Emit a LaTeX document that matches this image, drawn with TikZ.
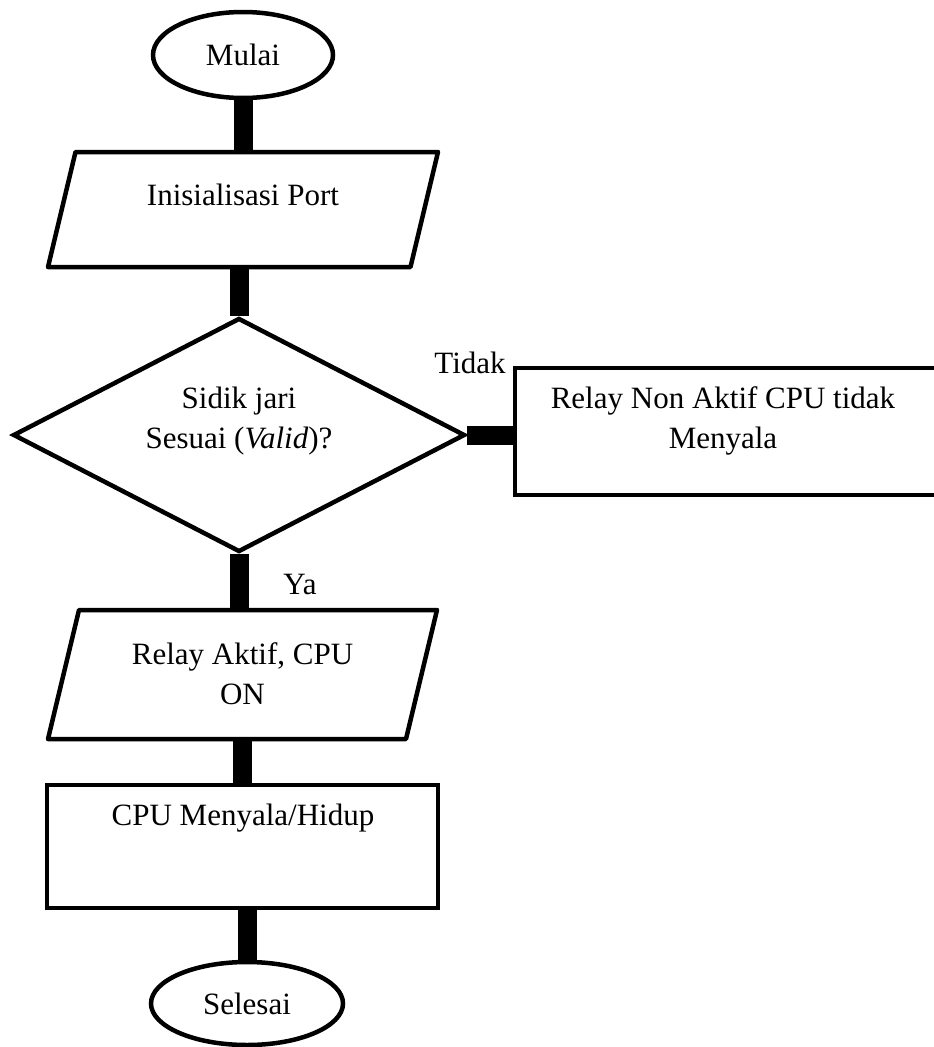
\documentclass[tikz,border=0pt]{standalone}
\usepackage{fontspec}
\setmainfont{Liberation Serif}
\usetikzlibrary{shapes.geometric}
\begin{document}
\begin{tikzpicture}[x=1pt,y=-1pt,
  every node/.style={font=\fontsize{31}{40}\selectfont},
  outline/.style={draw=black, line width=4.5pt, fill=white, inner sep=0pt},
  term/.style={outline, ellipse},
  iobox/.style={rectangle, draw=none, inner sep=0pt, outer sep=0pt, align=center},
  ioline/.style={draw=black, line width=4.5pt, fill=white, line join=round},
  proc/.style={outline, rectangle},
  dec/.style={outline, diamond},
  bar/.style={line width=19pt, draw=black},
  txt/.style={inner sep=0pt, align=center}
]
\useasboundingbox (0,0) rectangle (934,1047);
\clip (0,0) rectangle (934,1047);

\node[term, minimum width=180pt, minimum height=86pt] (mulai) at (243,55) {Mulai};

% input/output parallelograms: invisible anchor box + drawn outline
\node[iobox, minimum width=390pt, minimum height=115pt] (init) at (243,209.5) {};
\draw[ioline] ([xshift=27.5pt]init.north west) -- (init.north east)
  -- ([xshift=-27.5pt]init.south east) -- (init.south west) -- cycle;
\node[txt] (initt) at (243,195) {Inisialisasi Port};

\node[dec, minimum width=452pt, minimum height=234pt] (dec) at (239,435) {};
\node[txt] (dect) at (239,421) {Sidik jari\\Sesuai (\textit{Valid})?};
\node[proc, minimum width=430pt, minimum height=127pt] (off) at (730,431.5) {};
\node[txt] (offt) at (723,421) {Relay Non Aktif CPU tidak\\Menyala};

\node[iobox, minimum width=389pt, minimum height=129pt] (on) at (242.5,674.5) {};
\draw[ioline] ([xshift=31pt]on.north west) -- (on.north east)
  -- ([xshift=-31pt]on.south east) -- (on.south west) -- cycle;
\node[txt] (ont) at (242.5,674) {Relay Aktif, CPU\\ON};

\node[proc, minimum width=391pt, minimum height=123pt] (cpu) at (242.5,846.5) {};
\node[txt] (cput) at (243,818) {CPU Menyala/Hidup};
\node[term, minimum width=192pt, minimum height=83pt] (selesai) at (247,1003.5) {Selesai};

\node[txt] (tidak) at (470,363) {Tidak};
\node[txt] (ya) at (300,584) {Ya};

\draw[bar] (mulai.south) -- (init.north);
\draw[bar] (dec.north |- init.south) -- (dec.north);
\draw[bar] (dec.east) -- (dec.east -| off.west);
\draw[bar] (dec.south) -- (dec.south |- on.north);
\draw[bar] (on.south) -- (cpu.north);
\draw[bar] (selesai.north |- cpu.south) -- (selesai.north);
\end{tikzpicture}
\end{document}
